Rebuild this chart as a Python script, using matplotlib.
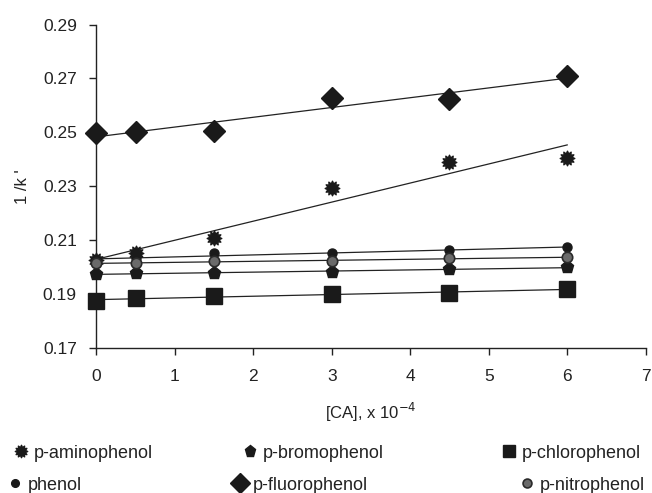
import numpy as np
import matplotlib
matplotlib.use('Agg')
import matplotlib.pyplot as plt
from matplotlib.path import Path

plt.rcParams['font.family'] = ['Liberation Sans', 'DejaVu Sans']

# 数据
ca = [0, 0.5, 1.5, 3, 4.5, 6]
aminophenol = [0.2027, 0.2052, 0.2107, 0.2293, 0.2391, 0.2404]
bromophenol = [0.1975, 0.1978, 0.1978, 0.1984, 0.1993, 0.2000]
chlorophenol = [0.1875, 0.1885, 0.1895, 0.1901, 0.1906, 0.1918]
phenol = [0.2025, 0.2035, 0.2052, 0.2052, 0.2064, 0.2074]
fluorophenol = [0.2499, 0.2500, 0.2504, 0.2628, 0.2623, 0.2710]
nitrophenol = [0.2015, 0.2015, 0.2023, 0.2024, 0.2033, 0.2037]

names = ['p-aminophenol', 'p-bromophenol', 'p-chlorophenol',
         'phenol', 'p-fluorophenol', 'p-nitrophenol']
series = [aminophenol, bromophenol, chlorophenol, phenol, fluorophenol, nitrophenol]

star = Path.unit_regular_star(12, 0.65)
styles = [
    dict(marker=star, ms=10.5, mfc='#1a1a1a', mec='#1a1a1a'),
    dict(marker='p', ms=9.5, mfc='#1a1a1a', mec='#1a1a1a'),
    dict(marker='s', ms=11, mfc='#1a1a1a', mec='#1a1a1a'),
    dict(marker='o', ms=6.5, mfc='#1a1a1a', mec='#1a1a1a'),
    dict(marker='D', ms=11.5, mfc='#1a1a1a', mec='#1a1a1a'),
    dict(marker='o', ms=7.5, mfc='#6a6a6a', mec='#2a2a2a', mew=1.2),
]

# 图例位置 (文字起点 x, 行中心 y, 像素)
leg_x = [34, 263, 522, 28, 253, 540]
leg_y = [453, 453, 453, 485, 485, 485]

fig = plt.figure(figsize=(6.52, 4.93), dpi=100)
ax = fig.add_axes([0.1477, 0.2935, 0.8426, 0.6568])

handles = []
for y, st in zip(series, styles):
    # 线性趋势线
    k, b = np.polyfit(ca, y, 1)
    xs = np.array([ca[0], ca[-1]])
    ax.plot(xs, k * xs + b, color='#222222', lw=0.9, zorder=2)
    h, = ax.plot(ca, y, ls='none', zorder=3, clip_on=False, **st)
    handles.append(h)

ax.set_xlim(0, 7)
ax.set_ylim(0.17, 0.29)
ax.set_xticks(range(0, 8))
ax.set_yticks(np.arange(0.17, 0.2901, 0.02))
ax.set_yticklabels(['%.2f' % v for v in np.arange(0.17, 0.2901, 0.02)])
for s in ['top', 'right']:
    ax.spines[s].set_visible(False)
for s in ['left', 'bottom']:
    ax.spines[s].set_linewidth(1.0)
    ax.spines[s].set_color('#222222')
ax.tick_params(direction='out', length=5, width=1, colors='#222222',
               labelsize=12.5, labelcolor='#222222')
ax.tick_params(axis='y', pad=9)
ax.tick_params(axis='x', pad=10)
ax.set_xlabel('[CA], x 10$^{-4}$', fontsize=12, color='#222222', labelpad=12)
ax.set_ylabel("1 /k '", fontsize=12, color='#222222', labelpad=9)

# 图例：每个条目单独放置
W, H = 652.0, 493.0
fs = 13
for h, name, tx, ty in zip(handles, names, leg_x, leg_y):
    x0 = tx - fs * 100 / 72 * 1.2
    fig.legend([h], [name], loc='center left',
               bbox_to_anchor=(x0 / W, 1 - ty / H), frameon=False,
               fontsize=fs, handlelength=1.0, handletextpad=0.2,
               borderpad=0, borderaxespad=0, markerscale=0.85,
               labelcolor='#222222')

fig.savefig('out.png', dpi=100)
